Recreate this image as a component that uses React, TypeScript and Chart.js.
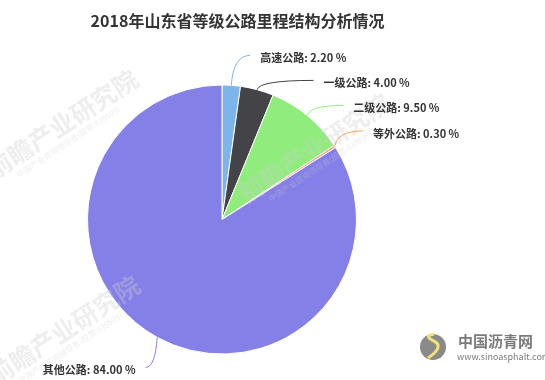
import React, { useEffect, useRef } from "react";
import { Chart, registerables } from "chart.js";

Chart.register(...registerables);

const title = "2018年山东省等级公路里程结构分析情况";
const categories = ["高速公路", "一级公路", "二级公路", "等外公路", "其他公路"];
const values = [2.2, 4.0, 9.5, 0.3, 84.0];
const colors = ["#7cb5ec", "#434348", "#90ed7d", "#f7a35c", "#8580e8"];
const watermarkText = "前瞻产业研究院";
const watermarkSub = "中国产业咨询领导者(股票:839599)";

const FONT = '"Noto Sans CJK SC", "Noto Sans", sans-serif';

const labelPlugin = {
  id: "pieLabels",
  afterDraw(chart: any) {
    const ctx = chart.ctx;
    const meta = chart.getDatasetMeta(0);
    const arcs = meta.data;
    if (!arcs.length) return;
    const cx = arcs[0].x;
    const cy = arcs[0].y;
    const r = arcs[0].outerRadius;
    const R = r + 32;
    const total = values.reduce((a, b) => a + b, 0);

    // watermarks
    ctx.save();
    const marks = [
      [-6, 180],
      [246, 204],
      [-4, 386],
    ];
    marks.forEach(([x, y]) => {
      ctx.save();
      ctx.translate(x, y);
      ctx.rotate(-0.58);
      ctx.font = `bold 25px ${FONT}`;
      ctx.fillStyle = "rgba(205,205,205,0.35)";
      ctx.textAlign = "left";
      ctx.textBaseline = "alphabetic";
      ctx.fillText(watermarkText, 0, 0);
      ctx.font = `8px ${FONT}`;
      ctx.fillText(watermarkSub, 22, 12);
      ctx.restore();
    });
    ctx.restore();

    type L = { i: number; ang: number; y: number; right: boolean };
    const items: L[] = arcs.map((a: any, i: number) => {
      const ang = (a.startAngle + a.endAngle) / 2;
      return { i, ang, y: cy + R * Math.sin(ang), right: Math.cos(ang) >= 0 };
    });
    const spacing = 25;
    [true, false].forEach((side) => {
      const list = items.filter((it) => it.right === side).sort((a, b) => a.y - b.y);
      for (let k = 1; k < list.length; k++) {
        if (list[k].y < list[k - 1].y + spacing) list[k].y = list[k - 1].y + spacing;
      }
    });

    ctx.save();
    items.forEach((it) => {
      const ex = cx + r * Math.cos(it.ang);
      const ey = cy + r * Math.sin(it.ang);
      const ly = it.y + 2;
      const dy = Math.min(Math.abs(ly - cy), R);
      const dir = it.right ? 1 : -1;
      const lx = cx + dir * Math.sqrt(R * R - dy * dy);
      ctx.strokeStyle = colors[it.i];
      ctx.lineWidth = 1;
      ctx.beginPath();
      ctx.moveTo(ex, ey);
      ctx.quadraticCurveTo(ex + dir * 2, ly, lx, ly);
      ctx.stroke();
      const pct = ((values[it.i] / total) * 100).toFixed(2);
      const text = `${categories[it.i]}: ${pct} %`;
      ctx.font = `bold 11px ${FONT}`;
      ctx.fillStyle = "#333333";
      ctx.textBaseline = "middle";
      ctx.textAlign = it.right ? "left" : "right";
      ctx.fillText(text, lx + dir * 10, ly + 2.5);
    });

    // title
    ctx.font = `bold 16px ${FONT}`;
    ctx.fillStyle = "#333333";
    ctx.textAlign = "center";
    ctx.textBaseline = "middle";
    ctx.fillText(title, 237.5, 20.5);

    // logo
    ctx.fillStyle = "#8a8a8a";
    ctx.beginPath();
    ctx.arc(433, 347, 13, 0, Math.PI * 2);
    ctx.fill();
    ctx.strokeStyle = "#f2e27a";
    ctx.lineWidth = 3;
    ctx.beginPath();
    ctx.moveTo(428, 358);
    ctx.quadraticCurveTo(446, 346, 432, 340);
    ctx.quadraticCurveTo(424, 336, 434, 334);
    ctx.stroke();
    ctx.font = `bold 15px ${FONT}`;
    ctx.fillStyle = "#7a7a7a";
    ctx.textAlign = "left";
    ctx.fillText("中国沥青网", 458, 341);
    ctx.font = `9px ${FONT}`;
    ctx.fillText("www.sinoasphalt.com", 457, 357);
    ctx.restore();
  },
};

export default function App() {
  const ref = useRef<HTMLCanvasElement | null>(null);
  useEffect(() => {
    document.body.style.margin = "0";
    const cx = 222;
    const cy = 219.5;
    const r = 134.5;
    const W = 545;
    const H = 380;
    const chart = new Chart(ref.current as HTMLCanvasElement, {
      type: "pie",
      data: {
        labels: categories,
        datasets: [
          {
            data: values,
            backgroundColor: colors,
            borderColor: "#ffffff",
            borderWidth: 1,
          },
        ],
      },
      options: {
        responsive: false,
        animation: false,
        radius: r,
        layout: {
          padding: {
            left: cx - r,
            right: W - (cx + r),
            top: cy - r,
            bottom: H - (cy + r),
          },
        },
        plugins: {
          legend: { display: false },
          tooltip: { enabled: false },
          title: { display: false },
        },
      } as any,
      plugins: [labelPlugin],
    });
    return () => chart.destroy();
  }, []);
  return (
    <div style={{ position: "absolute", left: 0, top: 0, width: 545, height: 380, background: "#fff" }}>
      <canvas ref={ref} width={545} height={380} style={{ width: 545, height: 380 }} />
    </div>
  );
}
